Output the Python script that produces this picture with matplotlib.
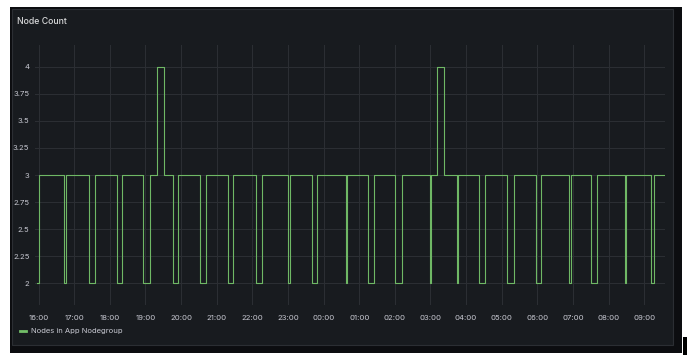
import numpy as np
import pandas as pd
import matplotlib
matplotlib.use("Agg")
import matplotlib.pyplot as plt
import matplotlib.dates as mdates
from matplotlib.patches import Rectangle

# moments where the node count changes (HH:MM, crosses midnight) and the new value
change_times = [
    "15:57", "16:00", "16:43", "16:46", "17:25", "17:35", "18:12", "18:21",
    "18:56", "19:08", "19:19", "19:31", "19:47", "19:55", "20:32", "20:42",
    "21:19", "21:28", "22:06", "22:16", "23:00", "23:03", "23:40", "23:49",
    "00:37", "00:39", "01:14", "01:25", "02:01", "02:12", "02:59", "03:01",
    "03:11", "03:23", "03:44", "03:47", "04:22", "04:32", "05:09", "05:20",
    "05:57", "06:07", "06:54", "06:56", "07:31", "07:41", "08:27", "08:30",
    "09:11", "09:16", "09:35",
]
node_counts = [
    2, 3, 2, 3, 2, 3, 2, 3,
    2, 3, 4, 3, 2, 3, 2, 3,
    2, 3, 2, 3, 2, 3, 2, 3,
    2, 3, 2, 3, 2, 3, 2, 3,
    4, 3, 2, 3, 2, 3, 2, 3,
    2, 3, 2, 3, 2, 3, 2, 3,
    2, 3, 3,
]
y_ticks = [2, 2.25, 2.5, 2.75, 3, 3.25, 3.5, 3.75, 4]
y_tick_labels = ["2", "2.25", "2.5", "2.75", "3", "3.25", "3.5", "3.75", "4"]
series_name = "Nodes in App Nodegroup"
title = "Node Count"

# turn HH:MM strings into datetimes, adding a day after midnight
day = pd.Timestamp("2023-01-01")
times = []
prev = None
for s in change_times:
    t = day + pd.Timedelta(hours=int(s[:2]), minutes=int(s[3:]))
    if prev is not None and t < prev:
        day = day + pd.Timedelta(days=1)
        t = t + pd.Timedelta(days=1)
    times.append(t)
    prev = t

W, H = 691, 362
fig = plt.figure(figsize=(W / 100, H / 100), dpi=100)
fig.patch.set_facecolor("white")

def px_rect(x0, y0, x1, y1, **kw):
    # rectangle given in pixel coords (origin top-left)
    return Rectangle((x0 / W, 1 - y1 / H), (x1 - x0) / W, (y1 - y0) / H,
                     transform=fig.transFigure, **kw)

fig.patches.append(px_rect(10, 7, 682, 353, facecolor="#0c0d10", edgecolor="none", zorder=0))
fig.patches.append(px_rect(12, 9, 673, 345, facecolor="#181b1f", edgecolor="#2b2e33", lw=0.8, zorder=0))
fig.patches.append(px_rect(683, 337, 687, 355, facecolor="black", edgecolor="none", zorder=0))

font = ["Inter", "DejaVu Sans"]
txt = "#c7c8d1"

ax = fig.add_axes([35 / W, 1 - 305 / H, 630 / W, 260 / H])
ax.set_zorder(5)
ax.set_facecolor("none")
ax.plot(times, node_counts, drawstyle="steps-post", color="#6fb865", lw=0.8, zorder=3)

ax.set_ylim(1.8, 4.2)
ax.set_xlim(pd.Timestamp("2023-01-01 15:54"), times[-1])
ax.set_yticks(y_ticks)
ax.set_yticklabels(y_tick_labels)
ax.xaxis.set_major_locator(mdates.HourLocator())
ax.xaxis.set_major_formatter(mdates.DateFormatter("%H:%M"))
ax.grid(True, color="#2c2f34", lw=0.7)
ax.tick_params(length=0, labelsize=5.6, colors=txt, pad=4)
ax.tick_params(axis="x", pad=7.5)
for lab in ax.get_xticklabels() + ax.get_yticklabels():
    lab.set_family(font)
for sp in ax.spines.values():
    sp.set_visible(False)

fig.text(17 / W, 1 - 21 / H, title, fontsize=6.3, color="#d8d9da", family=font,
         va="center", ha="left", weight="medium", zorder=6)
fig.lines.append(plt.Line2D([20 / W, 26 / W], [1 - 331 / H, 1 - 331 / H],
                            transform=fig.transFigure, color="#73bf69", lw=2, zorder=6))
fig.text(31 / W, 1 - 331 / H, series_name, fontsize=5.5, color=txt, family=font,
         va="center", ha="left", zorder=6)

fig.savefig("out.png", dpi=100, facecolor=fig.get_facecolor())
